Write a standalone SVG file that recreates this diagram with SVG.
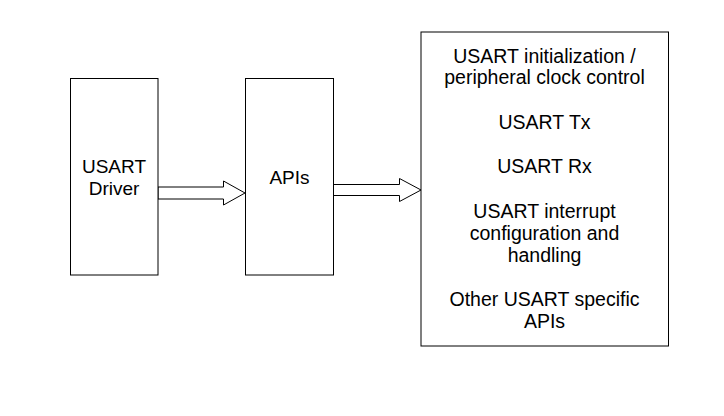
<svg xmlns="http://www.w3.org/2000/svg" width="724" height="416" viewBox="0 0 724 416">
<style>
.box{fill:#fff;stroke:#000;stroke-width:1}
.arr{fill:#fff;stroke:#000;stroke-width:1;stroke-linejoin:miter}
text{font-family:"Liberation Sans",Arial,sans-serif;font-size:19px;fill:#000;text-anchor:middle}
.r{font-size:19.5px}
</style>
<rect width="724" height="416" fill="#fff"/>
<g id="connectors">
<path class="arr" d="M158,187 L223.5,187 L223.5,181 L245,193 L223.5,205 L223.5,199 L158,199 Z"/>
<path class="arr" d="M333.5,184.5 L399.5,184.5 L399.5,178.5 L421,190 L399.5,201.5 L399.5,195.5 L333.5,195.5 Z"/>
</g>
<g id="driver">
<rect class="box" x="70.5" y="78.5" width="87.5" height="196.5"/>
<text x="114" y="172.5">USART</text>
<text x="114" y="195">Driver</text>
</g>
<g id="apis">
<rect class="box" x="245.5" y="78.5" width="88" height="196.5"/>
<text x="289.5" y="183.5">APIs</text>
</g>
<g id="list">
<rect class="box" x="421" y="32" width="247.5" height="314"/>
<text class="r" x="544.5" y="62.5">USART initialization /</text>
<text class="r" x="544.5" y="84">peripheral clock control</text>
<text class="r" x="544.5" y="128.5">USART Tx</text>
<text class="r" x="544.5" y="173">USART Rx</text>
<text class="r" x="544.5" y="217.5">USART interrupt</text>
<text class="r" x="544.5" y="239.5">configuration and</text>
<text class="r" x="544.5" y="261.5">handling</text>
<text class="r" x="544.5" y="305.5">Other USART specific</text>
<text class="r" x="544.5" y="327.5">APIs</text>
</g>
</svg>
